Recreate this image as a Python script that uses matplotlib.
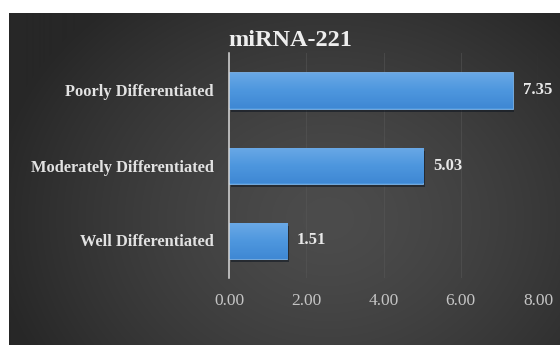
import numpy as np
import matplotlib
matplotlib.use("Agg")
import matplotlib.pyplot as plt
import matplotlib.transforms as mtransforms
from matplotlib.colors import LinearSegmentedColormap

# Data
title = "miRNA-221"
categories = ["Well Differentiated", "Moderately Differentiated", "Poorly Differentiated"]
values = [1.51, 5.03, 7.35]
xticks = [0, 2, 4, 6, 8]
xtick_labels = ["0.00", "2.00", "4.00", "6.00", "8.00"]

W, H = 560, 345
DPI = 100
fig = plt.figure(figsize=(W / DPI, H / DPI), dpi=DPI, facecolor="white")

serif = ["Liberation Serif", "DejaVu Serif"]

# Dark panel with a soft radial gradient
px0, py_top = 9, 13
bg = fig.add_axes([px0 / W, 0, 1 - px0 / W, 1 - py_top / H], zorder=0)
bg.set_axis_off()
nx, ny = 552, 332
xx, yy = np.meshgrid(np.linspace(0, 1, nx), np.linspace(0, 1, ny))
cx, cy = 0.58, 0.62
r = np.sqrt(((xx - cx) / 0.62) ** 2 + ((yy - cy) / 0.85) ** 2)
r = np.clip(r, 0, 1) ** 1.4
c_center = np.array([0x4c, 0x4c, 0x4c]) / 255
c_edge = np.array([0x27, 0x27, 0x27]) / 255
img = c_center[None, None, :] * (1 - r[..., None]) + c_edge[None, None, :] * r[..., None]
bg.imshow(img, extent=[0, 1, 0, 1], aspect="auto", origin="upper")
bg.set_xlim(0, 1)
bg.set_ylim(0, 1)

# Plot area
ax = fig.add_axes([229 / W, 1 - 278 / H, (538 - 229) / W, (278 - 53) / H], zorder=1)
ax.patch.set_alpha(0)
ypos = np.arange(len(categories))
bar_h = 0.48

# Drop shadow under the bars
shadow_tr = mtransforms.offset_copy(ax.transData, fig=fig, x=1.5, y=-3, units="dots")
ax.barh(ypos, values, height=bar_h, color="#0d1520", alpha=0.55,
        transform=shadow_tr, zorder=2, linewidth=0)

bars = ax.barh(ypos, values, height=bar_h, color="#4b95dc", zorder=3,
               edgecolor="#7fb5ea", linewidth=0.6)

# Vertical gradient fill inside each bar
grad_cmap = LinearSegmentedColormap.from_list("bar", ["#3f88d4", "#4e97de", "#6aa9e6"])
grad = np.linspace(0, 1, 64).reshape(-1, 1)
for b in bars:
    x0, y0 = b.get_x(), b.get_y()
    w, h = b.get_width(), b.get_height()
    im = ax.imshow(grad, cmap=grad_cmap, extent=[x0, x0 + w, y0, y0 + h],
                   origin="lower", aspect="auto", zorder=3.5)
    im.set_clip_path(b)

ax.set_xlim(0, 8)
ax.set_ylim(-0.5, len(categories) - 0.5)

# Value labels
for yv, v in zip(ypos, values):
    ax.annotate(f"{v:.2f}", xy=(v, yv), xytext=(7, 0), textcoords="offset points",
                ha="left", va="center", color="#e8e8e8", fontsize=12,
                fontweight="bold", family=serif, zorder=5)

# Grid and axis line
ax.set_xticks(xticks)
ax.set_xticklabels(xtick_labels)
ax.grid(axis="x", color="#585858", linewidth=0.8, alpha=0.5, zorder=1)
ax.grid(axis="y", visible=False)
for s in ["top", "right", "bottom"]:
    ax.spines[s].set_visible(False)
ax.spines["left"].set_color("#d8d8d8")
ax.spines["left"].set_linewidth(1.1)
ax.spines["left"].set_zorder(4)

ax.set_yticks(ypos)
ax.set_yticklabels(categories)
ax.tick_params(axis="both", length=0)
ax.tick_params(axis="y", pad=11)
ax.tick_params(axis="x", pad=11)
for lbl in ax.get_yticklabels():
    lbl.set_family(serif)
    lbl.set_fontsize(11.8)
    lbl.set_fontweight("bold")
    lbl.set_color("#e2e2e2")
for lbl in ax.get_xticklabels():
    lbl.set_family(serif)
    lbl.set_fontsize(12.5)
    lbl.set_color("#c4c4c4")

# Title
fig.text(290 / W, 1 - 40 / H, title, ha="center", va="center",
         fontsize=17.5, color="#eeeeee", family=serif, fontweight="bold")

fig.savefig("out.png", dpi=DPI, facecolor="white")
